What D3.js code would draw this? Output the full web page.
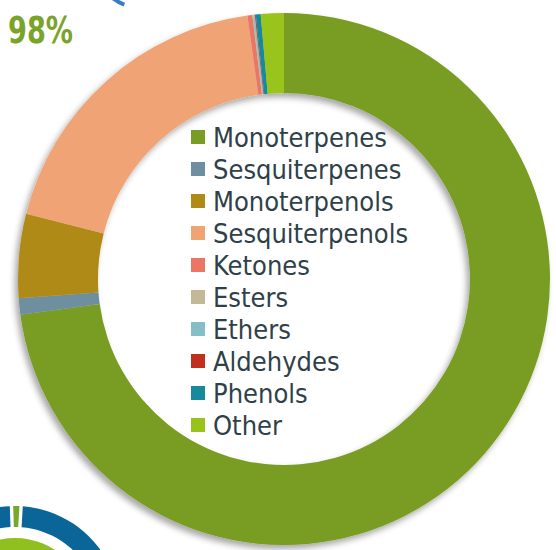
<!DOCTYPE html>
<html>
<head>
<meta charset="utf-8">
<script src="https://cdn.jsdelivr.net/npm/d3@7"></script>
<style>
  html, body { margin: 0; padding: 0; background: #fff; }
  svg { display: block; }
</style>
</head>
<body>
<svg id="chart"></svg>
<script>
(function () {
    const categories = ['Monoterpenes', 'Sesquiterpenes', 'Monoterpenols', 'Sesquiterpenols',
        'Ketones', 'Esters', 'Ethers', 'Aldehydes', 'Phenols', 'Other'];
    const values = [73.0, 1.0, 5.1, 18.9, 0.3, 0.05, 0.1, 0.05, 0.3, 1.4];
    const colors = ['#799c24', '#6e8fa0', '#b08a16', '#f0a474', '#ea7666',
        '#c4b996', '#86bec8', '#c0301c', '#198a9c', '#98c41a'];

    // neighbouring slide fragments (cut off by the crop)
    const sideLabel = '98%';
    const sideValues = [1.07, 98.93];
    const sideColors = ['#76a82a', '#0a6699'];

    const W = 556, H = 550;
    const cx = 284, cy = 279, outerR = 266, innerR = 186;

    const svg = d3.select('#chart').attr('width', W).attr('height', H);

    const defs = svg.append('defs');
    const f = defs.append('filter').attr('id', 'shadow')
        .attr('x', '-10%').attr('y', '-10%').attr('width', '120%').attr('height', '120%');
    f.append('feDropShadow')
        .attr('dx', -3).attr('dy', 4).attr('stdDeviation', 3)
        .attr('flood-color', '#000').attr('flood-opacity', 0.35);

    // --- fragments of the neighbouring charts
    svg.append('text')
        .attr('x', 8).attr('y', 43)
        .attr('font-family', "'DejaVu Sans Condensed', 'DejaVu Sans', sans-serif")
        .attr('font-weight', 'bold')
        .attr('font-size', 38)
        .attr('textLength', 65).attr('lengthAdjust', 'spacingAndGlyphs')
        .attr('fill', '#7aa32a')
        .text(sideLabel);

    svg.append('path')
        .attr('d', d3.arc()({ innerRadius: 40, outerRadius: 40, startAngle: 3.49, endAngle: 3.81 }))
        .attr('transform', 'translate(138,-33)')
        .attr('fill', 'none').attr('stroke', '#3a7cc4')
        .attr('stroke-width', 4).attr('stroke-linecap', 'round');

    const sidePie = d3.pie().sort(null)
        .startAngle(-0.0335).endAngle(2 * Math.PI - 0.0335).padAngle(0.025);
    const sideG = svg.append('g').attr('transform', 'translate(15,611)');
    sideG.selectAll('path.ring')
        .data(sidePie(sideValues))
        .join('path')
        .attr('class', 'ring')
        .attr('d', d3.arc().innerRadius(84).outerRadius(105))
        .attr('fill', (d, i) => sideColors[i]);
    sideG.append('circle').attr('r', 73).attr('fill', '#8fc01f');

    // --- main donut
    const pie = d3.pie().sort(null).value(d => d);
    const arc = d3.arc().innerRadius(innerR).outerRadius(outerR);

    const g = svg.append('g')
        .attr('transform', `translate(${cx},${cy})`)
        .attr('filter', 'url(#shadow)');
    g.selectAll('path.slice')
        .data(pie(values))
        .join('path')
        .attr('class', 'slice')
        .attr('d', arc)
        .attr('fill', (d, i) => colors[i])
        .append('title')
        .text((d, i) => `${categories[i]}: ${values[i]}%`);

    // --- legend inside the hole
    const y = d3.scalePoint().domain(categories).range([137, 425]);
    const lg = svg.append('g');
    const rows = lg.selectAll('g.row')
        .data(categories)
        .join('g')
        .attr('class', 'row')
        .attr('transform', d => `translate(0,${y(d)})`);
    rows.append('rect')
        .attr('x', 191).attr('y', -7)
        .attr('width', 14).attr('height', 14)
        .attr('fill', (d, i) => colors[i]);
    rows.append('text')
        .attr('x', 213).attr('dy', '0.36em')
        .attr('font-family', "'DejaVu Sans Condensed', 'DejaVu Sans', sans-serif")
        .attr('font-stretch', 'condensed')
        .attr('font-size', 27)
        .attr('fill', '#2f4148')
        .text(d => d);
})();
</script>
</body>
</html>
